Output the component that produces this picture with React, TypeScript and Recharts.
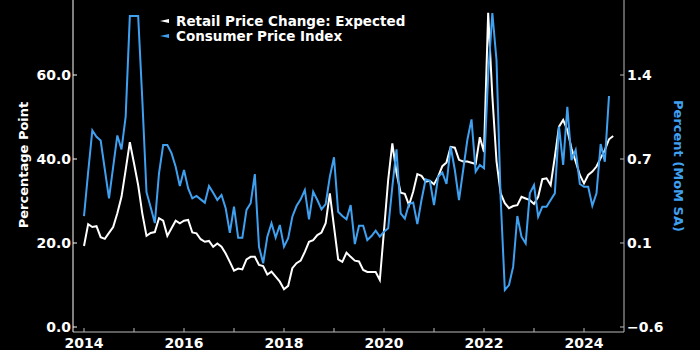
import { LineChart, Line, XAxis, YAxis } from "recharts";

const FONT = "'DejaVu Sans', Verdana, sans-serif";
const BLUE = "#40a0f0";

// monthly, Jan 2014 onwards
const START_YEAR = 2014;

// Retail Price Change: Expected (percentage point, left axis)
const retailExpected = [
  19.3, 24.5, 23.8, 24.0, 21.4, 21.0, 22.4, 23.8, 27.1, 31.0, 37.4, 44.0,
  39.0, 33.8, 27.0, 21.7, 22.4, 22.6, 25.9, 25.3, 21.7, 23.5, 25.3, 24.7,
  25.3, 25.5, 22.5, 22.3, 20.9, 20.3, 20.5, 19.1, 19.9, 19.1, 17.5, 15.5,
  13.4, 13.9, 13.7, 16.1, 16.7, 16.7, 14.8, 14.5, 12.5, 13.2, 12.0, 10.8,
  9.0, 9.8, 14.0, 15.2, 15.8, 17.9, 20.3, 20.7, 21.9, 22.5, 24.7, 31.8,
  23.9, 16.1, 15.5, 17.7, 16.7, 15.8, 15.6, 13.6, 13.1, 13.1, 13.1, 11.2,
  23.0, 35.0, 43.7, 36.7, 32.0, 31.7, 29.0, 32.2, 36.4, 36.0, 34.6, 34.8,
  34.0, 35.8, 38.3, 39.2, 42.9, 42.7, 39.8, 39.4, 39.4, 39.1, 38.8, 45.2,
  41.7, 74.8, 55.0, 39.5, 31.8, 29.5, 28.3, 28.8, 29.0, 31.0, 30.6, 30.2,
  29.3, 31.0, 35.2, 35.4, 33.8, 40.5, 47.7, 49.3, 46.9, 42.5, 39.4, 36.2,
  34.2, 36.2, 37.0, 38.2, 40.2, 42.1, 44.7, 45.5,
];

// Consumer Price Index (percent MoM SA, right axis)
const cpiMoM = [
  0.28, 0.63, 0.96, 0.91, 0.88, 0.65, 0.42, 0.67, 0.92, 0.81, 1.07, 1.868,
  1.868, 1.868, 1.2, 0.47, 0.35, 0.225, 0.62, 0.844, 0.844, 0.78, 0.672, 0.519,
  0.646, 0.5, 0.421, 0.44, 0.413, 0.387, 0.519, 0.466, 0.408, 0.448, 0.342, 0.148,
  0.355, 0.109, 0.109, 0.329, 0.382, 0.614, 0.037, -0.094, 0.117, 0.223, 0.109, 0.21,
  0.037, 0.104, 0.275, 0.36, 0.413, 0.487, 0.255, 0.474, 0.408, 0.334, 0.376, 0.593,
  0.747, 0.315, 0.281, 0.255, 0.368, 0.058, 0.204, 0.204, 0.09, 0.122, 0.164, 0.117,
  0.157, 0.183, 0.513, 0.81, 0.302, 0.26, 0.376, 0.387, 0.217, 0.408, 0.572, 0.561,
  0.368, 0.593, 0.625, 0.535, 0.831, 0.646, 0.408, 0.646, 0.884, 1.048, 0.633, 0.686,
  0.66, 1.4, 1.892, 1.519, 0.42, -0.306, -0.267, -0.121, 0.281, 0.117, 0.064, 0.461,
  0.527, 0.275, 0.355, 0.355, 0.408, 0.461, 0.99, 0.686, 1.148, 0.725, 0.805, 0.535,
  0.513, 0.513, 0.363, 0.461, 0.852, 0.712, 1.233,
];

const leftTicks = [0, 20, 40, 60];
const rightTicks = [-0.6, 0.0667, 0.7333, 1.4];
const yearTicks = [2014, 2015, 2016, 2017, 2018, 2019, 2020, 2021, 2022, 2023, 2024];

const legendItems = [
  { name: "Retail Price Change: Expected", color: "#ffffff" },
  { name: "Consumer Price Index", color: BLUE },
];

const data = retailExpected.map((v, i) => ({
  t: START_YEAR + i / 12,
  retail: v,
  cpi: i < cpiMoM.length ? cpiMoM[i] : null,
}));

const tickStyle = { fill: "#ffffff", fontSize: 14, fontWeight: 700, fontFamily: FONT };

const App = () => {
  return (
    <div
      style={{
        position: "absolute",
        left: 0,
        top: 0,
        width: 700,
        height: 350,
        background: "#000000",
        fontFamily: FONT,
      }}
    >
      <LineChart
        width={700}
        height={350}
        data={data}
        margin={{ top: 0, right: 0, bottom: 0, left: 0 }}
      >
        <XAxis
          dataKey="t"
          type="number"
          domain={[2013.78, 2024.8]}
          ticks={yearTicks}
          tickFormatter={(v: number) => (Math.round(v) % 2 === 0 ? String(Math.round(v)) : "")}
          height={18}
          tickSize={-4}
          tickMargin={10}
          tick={tickStyle}
          axisLine={{ stroke: "#bbbbbb" }}
          tickLine={{ stroke: "#bbbbbb" }}
          allowDataOverflow
        />
        <YAxis
          yAxisId="left"
          orientation="left"
          width={73}
          domain={[-1.19, 77.86]}
          ticks={leftTicks}
          tickFormatter={(v: number) => v.toFixed(1)}
          tickSize={-4}
          tickMargin={6}
          tick={tickStyle}
          axisLine={{ stroke: "#ffffff" }}
          tickLine={{ stroke: "#ffffff" }}
          allowDataOverflow
        />
        <YAxis
          yAxisId="right"
          orientation="right"
          width={76}
          domain={[-0.6397, 1.9953]}
          ticks={rightTicks}
          tickFormatter={(v: number) => v.toFixed(1).replace("-", "\u2212")}
          tickSize={-4}
          tickMargin={7}
          tick={{ ...tickStyle, textAnchor: "start" }}
          axisLine={{ stroke: "#bbbbbb" }}
          tickLine={{ stroke: "#bbbbbb" }}
          allowDataOverflow
        />
        <Line
          yAxisId="left"
          dataKey="retail"
          stroke="#ffffff"
          strokeWidth={2}
          dot={false}
          isAnimationActive={false}
        />
        <Line
          yAxisId="right"
          dataKey="cpi"
          stroke={BLUE}
          strokeWidth={2}
          dot={false}
          isAnimationActive={false}
        />
      </LineChart>

      {/* legend */}
      <div style={{ position: "absolute", left: 159, top: 14 }}>
        {legendItems.map((item) => (
          <div
            key={item.name}
            style={{ display: "flex", alignItems: "center", height: 14.5 }}
          >
            <svg width={12} height={8} style={{ marginRight: 5 }}>
              <polygon points="1,4 10,2 10,6" fill={item.color} />
            </svg>
            <span
              style={{
                color: "#ffffff",
                fontSize: 13.5,
                fontWeight: 700,
                whiteSpace: "nowrap",
              }}
            >
              {item.name}
            </span>
          </div>
        ))}
      </div>

      {/* axis titles */}
      <div
        style={{
          position: "absolute",
          left: 23,
          top: 165,
          transform: "translate(-50%, -50%) rotate(-90deg)",
          color: "#ffffff",
          fontSize: 13,
          fontWeight: 700,
          whiteSpace: "nowrap",
        }}
      >
        Percentage Point
      </div>
      <div
        style={{
          position: "absolute",
          left: 678,
          top: 166,
          transform: "translate(-50%, -50%) rotate(90deg)",
          color: BLUE,
          fontSize: 13,
          fontWeight: 700,
          whiteSpace: "nowrap",
        }}
      >
        Percent (MoM SA)
      </div>
    </div>
  );
};

export default App;
